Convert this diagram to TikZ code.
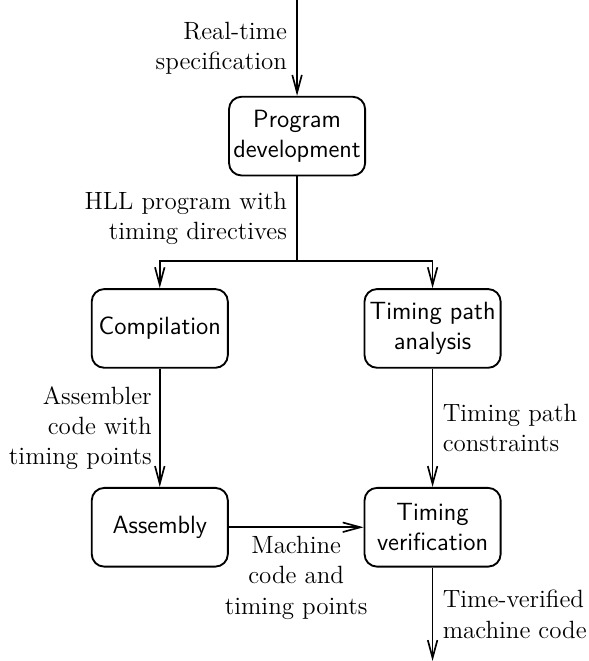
\documentclass[12pt,tikz,border=0pt]{standalone}
\usepackage{tikz}
\usetikzlibrary{arrows.meta}

\begin{document}
\begin{tikzpicture}[
  stage/.style={draw,line width=0.9pt,rounded corners=6pt,minimum width=2.3cm,
                minimum height=1.33cm,align=center,font=\sffamily,inner sep=2pt},
  lbl/.style={align=right,inner sep=4.5pt},
  arr/.style={-{Straight Barb[length=8.5pt,width=4.6pt]},thick},
  x=1cm, y=1cm
]
\useasboundingbox (0,0) rectangle (9.95,-11.17);

% --- stages ---
\node[stage] (dev)  at (5.02,-2.30) {Program\\development};
\node[stage] (comp) at (2.70,-5.55) {Compilation};
\node[stage] (tpa)  at (7.31,-5.55) {Timing path\\analysis};
\node[stage] (asm)  at (2.70,-8.91) {Assembly};
\node[stage] (tv)   at (7.31,-8.91) {Timing\\verification};

% --- free ends ---
\coordinate (spec)   at (5.02,0);
\coordinate (split)  at (5.02,-4.41);
\coordinate (output) at (7.31,-11.17);

% --- arrows ---
\draw[arr] (spec) -- node[lbl,left]{Real-time\\specification} (dev.north);
\draw[thick] (dev.south) -- node[lbl,left]{HLL program with\\timing directives} (split);
\draw[arr] (split) -| (comp.north);
\draw[arr] (split) -| (tpa.north);
\draw[arr] (comp.south) -- node[lbl,left,inner sep=3.5pt]{Assembler\\code with\\timing points} (asm.north);
\draw[arr] (tpa.south) -- node[lbl,right,align=left]{Timing path\\constraints} (tv.north);
\draw[arr] (asm.east) -- node[below,align=center]{Machine\\code and\\timing points} (tv.west);
\draw[arr] (tv.south) -- node[lbl,right,align=left]{Time-verified\\machine code} (output);
\end{tikzpicture}
\end{document}
